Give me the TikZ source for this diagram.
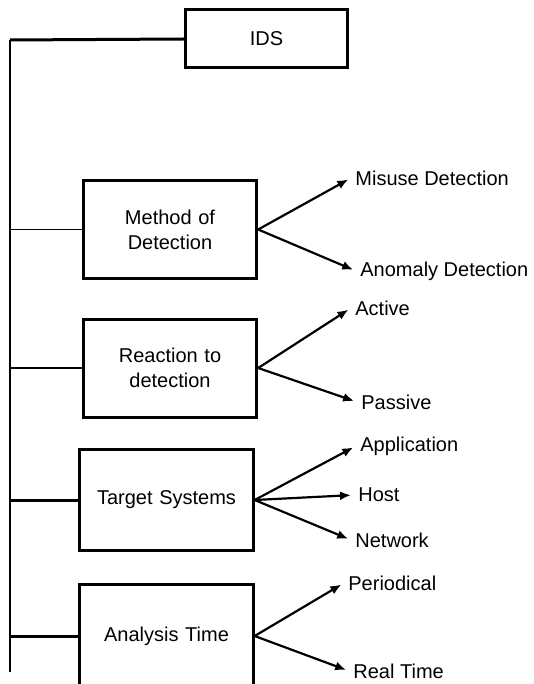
\documentclass[tikz,border=0pt]{standalone}
\usepackage{fontspec}
\setmainfont{Liberation Sans}
\usetikzlibrary{arrows}
\usetikzlibrary{arrows.meta}
\usetikzlibrary{calc}

\begin{document}
\begin{tikzpicture}[x=0.5pt,y=-0.5pt,
	every node/.style={font=\fontsize{10}{12.5}\selectfont},
	catbox/.style={draw,line width=1.5pt,minimum width=86.5pt,minimum height=49pt,align=center,text width=80pt},
	leaf/.style={anchor=west,inner sep=2pt},
	branch/.style={line width=1.1pt,-{Latex[length=5.5pt,width=4.5pt]},shorten >=1.5pt},
	feed/.style={line width=0.8pt}]
	\clip (0,0) rectangle (534,684);
	\node[draw,line width=1.5pt,minimum width=81pt,minimum height=29pt] (ids) at (266.5,39) {IDS};
	\coordinate (top) at (10,40);
	\coordinate (bot) at (10,672);
	\draw[line width=1.5pt] (ids.west) -- (top);
	\draw[line width=1.2pt] (top) -- (bot);

	\node[catbox] (method) at (170,229.5) {Method of\\Detection};
	\node[catbox] (reaction) at (170,368) {Reaction to\\detection};
	\node[catbox,minimum height=50.5pt] (target) at (166.5,500) {Target Systems};
	\node[catbox,minimum height=52pt] (analysis) at (166.5,636) {Analysis Time};

	\draw[feed] (method.west) -- (method.west -| top);
	\draw[feed] (reaction.west) -- (reaction.west -| top);
	\draw[feed,line width=1.5pt] (target.west) -- (target.west -| top);
	\draw[feed,line width=1.5pt] (analysis.west) -- (analysis.west -| top);

	\node[leaf] (misuse) at (351,178) {Misuse Detection};
	\node[leaf] (anomaly) at (356,271) {Anomaly Detection};
	\node[leaf] (active) at (351,308) {Active};
	\node[leaf] (passive) at (357,402) {Passive};
	\node[leaf] (app) at (356,446) {Application};
	\node[leaf] (host) at (354,495) {Host};
	\node[leaf] (net) at (351,540) {Network};
	\node[leaf] (period) at (344,583) {Periodical};
	\node[leaf] (real) at (349,671) {Real Time};

	\draw[branch] (method.east) -- (misuse.west);
	\draw[branch] (method.east) -- (anomaly.west);
	\draw[branch] (reaction.east) -- (active.west);
	\draw[branch] (reaction.east) -- (passive.west);
	\draw[branch] (target.east) -- (app.west);
	\draw[branch] (target.east) -- (host.west);
	\draw[branch] (target.east) -- (net.west);
	\draw[branch] (analysis.east) -- (period.west);
	\draw[branch] (analysis.east) -- (real.west);
\end{tikzpicture}
\end{document}
